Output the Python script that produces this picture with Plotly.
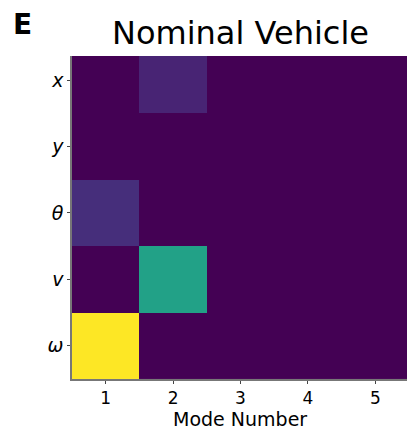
import plotly.graph_objects as go

modes = [1, 2, 3, 4, 5]
states = ["x", "y", "θ", "v", "ω"]
state_labels = ["<i>x</i>", "<i>y</i>", "<i>θ</i>", "<i>v</i>", "<i>ω</i>"]
# rows: x, y, theta, v, omega ; cols: modes 1..5
row_x = [0.0, 0.10, 0.0, 0.0, 0.0]
row_y = [0.0, 0.0, 0.0, 0.0, 0.0]
row_theta = [0.13, 0.0, 0.0, 0.0, 0.0]
row_v = [0.0, 0.57, 0.0, 0.0, 0.0]
row_omega = [1.0, 0.0, 0.0, 0.0, 0.0]
z = [row_x, row_y, row_theta, row_v, row_omega]

fig = go.Figure(go.Heatmap(
    z=z, x=modes, y=list(range(len(states))),
    colorscale="Viridis", zmin=0, zmax=1, showscale=False,
    hoverinfo="skip"))

font = "DejaVu Sans"
W, H = 407, 429
L, R, T, B = 72, 0, 56, 50
pw = W - L - R
ph = H - T - B


def px(xp):
    return (xp - L) / pw


def py(yp):
    return (H - B - yp) / ph


fig.update_layout(
    width=W, height=H,
    margin=dict(l=L, r=R, t=T, b=B),
    paper_bgcolor="white", plot_bgcolor="white",
    font=dict(family=font, color="black"),
    xaxis=dict(range=[0.5, 5.47], tickvals=modes, ticktext=[str(m) for m in modes],
               tickfont=dict(size=17), ticks="outside", ticklen=3, tickcolor="#444",
               showline=True, linecolor="#777", linewidth=1.5, showgrid=False,
               zeroline=False),
    yaxis=dict(range=[4.5, -0.364], tickvals=list(range(len(states))), ticktext=state_labels,
               tickfont=dict(size=19), ticks="outside", ticklen=3, tickcolor="#444",
               showline=True, linecolor="#777", linewidth=1.5, showgrid=False,
               zeroline=False),
    annotations=[
        dict(text="Nominal Vehicle", x=px(240), y=py(54),
             xref="paper", yref="paper",
             showarrow=False, font=dict(size=32, family=font), xanchor="center",
             yanchor="bottom"),
        dict(text="<b>E</b>", x=px(11), y=py(6), showarrow=False,
             font=dict(size=28, family=font),
             xanchor="left", yanchor="top", xref="paper", yref="paper"),
        dict(text="Mode Number", x=px(240), y=py(418.5), showarrow=False,
             font=dict(size=19, family=font), borderpad=0,
             xanchor="center", yanchor="middle", xref="paper", yref="paper"),
    ],
)

fig.write_html(
    "out.html",
    config={"displayModeBar": False},
    post_script="document.body.style.margin='0';document.body.style.overflow='hidden';",
)
